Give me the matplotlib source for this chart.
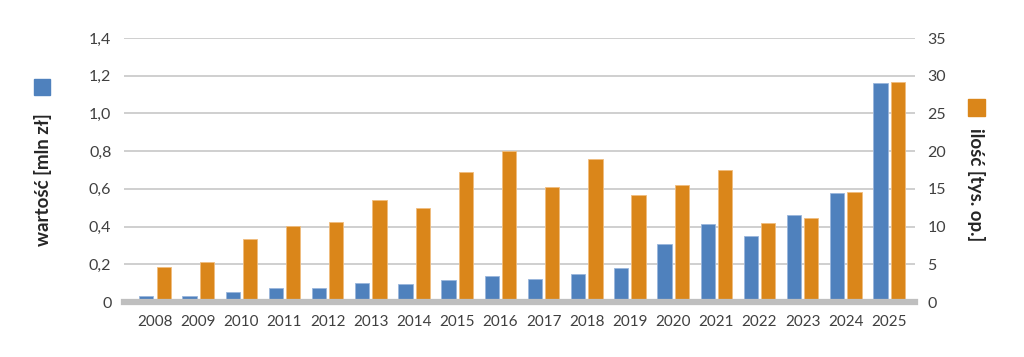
import numpy as np
import matplotlib
matplotlib.use("Agg")
import matplotlib.pyplot as plt
from matplotlib.patches import Rectangle

plt.rcParams['font.family'] = ['Lato', 'DejaVu Sans']

# data
years = ['2008', '2009', '2010', '2011', '2012', '2013', '2014', '2015', '2016',
         '2017', '2018', '2019', '2020', '2021', '2022', '2023', '2024', '2025']
wartosc = [0.03, 0.03, 0.055, 0.077, 0.074, 0.10, 0.098, 0.118, 0.137,
           0.12, 0.15, 0.18, 0.31, 0.413, 0.35, 0.462, 0.577, 1.16]
ilosc = [4.6, 5.3, 8.3, 10.1, 10.6, 13.5, 12.5, 17.2, 20.0,
         15.3, 18.9, 14.2, 15.5, 17.5, 10.5, 11.1, 14.6, 29.2]

blue = '#4F81BD'
orange = '#DA861A'
txt = '#404040'

fig = plt.figure(figsize=(10.24, 3.57), dpi=100)
ax = fig.add_axes([0.121, 0.154, 0.7725, 0.7395])
ax2 = ax.twinx()

x = np.arange(len(years))
w = 0.33
off = 0.2

ax.bar(x - off, wartosc, width=w, color=blue, edgecolor='#9ab6dc', linewidth=0.6, zorder=2)
ax2.bar(x + off, ilosc, width=w, color=orange, edgecolor='#f0bd7e', linewidth=0.6, zorder=2)

ax.set_ylim(0, 1.4)
ax2.set_ylim(0, 35)
ax.set_xlim(-0.72, 17.6)
ax.set_yticks(np.arange(0, 1.41, 0.2))
ax.set_yticklabels(['0'] + [('%.1f' % v).replace('.', ',') for v in np.arange(0.2, 1.41, 0.2)])
ax2.set_yticks(np.arange(0, 36, 5))
ax.set_xticks(x)
ax.set_xticklabels(years)

ax.grid(axis='y', color='#cfcfcf', linewidth=1.4, zorder=0)
ax.set_axisbelow(True)
ax2.axhline(0, color='#bfbfbf', linewidth=4.5, clip_on=False, zorder=3)

for a in (ax, ax2):
    for s in a.spines.values():
        s.set_visible(False)
    a.tick_params(length=0, labelsize=11.5, colors=txt)
ax.tick_params(axis='y', pad=9)
ax2.tick_params(axis='y', pad=9)
ax.tick_params(axis='x', pad=9, labelsize=11)

# legend markers and axis titles
fig.add_artist(Rectangle((0.033, 0.734), 0.016, 0.044, transform=fig.transFigure,
                         color=blue))
fig.text(0.042, 0.496, 'wartość [mln zł]', rotation=90, ha='center', va='center',
         fontsize=13.5, fontweight='bold', color='#262626')
fig.add_artist(Rectangle((0.945, 0.676), 0.017, 0.046, transform=fig.transFigure,
                         color=orange))
fig.text(0.9535, 0.483, 'ilość [tys. op.]', rotation=270, ha='center', va='center',
         fontsize=13.5, fontweight='bold', color='#262626')

fig.savefig('out.png', dpi=100)
